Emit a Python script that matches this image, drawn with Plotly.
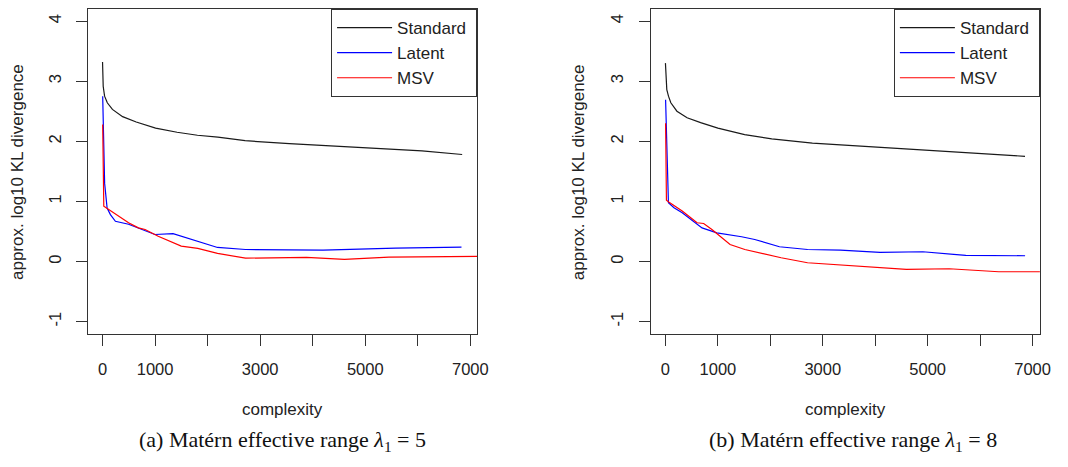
import plotly.graph_objects as go

# ---------------- data ----------------
# Panel (a): Matérn effective range lambda1 = 5
a_std_x = [0, 13, 39, 91, 188, 382, 641, 1010, 1418, 1806, 2195, 2713, 3555, 4526, 5497, 6080, 6844]
a_std_y = [3.32, 2.91, 2.75, 2.64, 2.53, 2.41, 2.32, 2.22, 2.15, 2.10, 2.07, 2.01, 1.96, 1.91, 1.87, 1.84, 1.78]

a_lat_x = [3, 40, 87, 150, 245, 495, 997, 1342, 2188, 2721, 4196, 5576, 6831]
a_lat_y = [2.75, 1.30, 0.89, 0.78, 0.67, 0.62, 0.45, 0.465, 0.234, 0.20, 0.19, 0.223, 0.239]

a_msv_x = [3, 24, 495, 683, 809, 1059, 1498, 1812, 2188, 2721, 3882, 4603, 5450, 7113, 7600]
a_msv_y = [2.28, 0.92, 0.644, 0.56, 0.533, 0.42, 0.256, 0.218, 0.135, 0.057, 0.068, 0.035, 0.073, 0.09, 0.09]

# Panel (b): Matérn effective range lambda1 = 8
b_std_x = [0, 26, 58, 103, 219, 413, 671, 1000, 1510, 2027, 2802, 3770, 4739, 5707, 6856]
b_std_y = [3.30, 2.86, 2.75, 2.64, 2.50, 2.39, 2.31, 2.22, 2.11, 2.04, 1.97, 1.92, 1.86, 1.82, 1.75]

b_lat_x = [3, 40, 57, 163, 320, 698, 980, 1452, 1703, 2174, 2709, 3337, 4091, 4908, 5726, 6857]
b_lat_y = [2.69, 1.30, 0.977, 0.894, 0.81, 0.56, 0.478, 0.412, 0.367, 0.246, 0.20, 0.19, 0.151, 0.163, 0.101, 0.096]

b_msv_x = [3, 19, 70, 320, 603, 729, 886, 1232, 1514, 2206, 2709, 3463, 4091, 4594, 5411, 6354, 7140, 7600]
b_msv_y = [2.30, 1.02, 0.987, 0.84, 0.645, 0.633, 0.533, 0.284, 0.20, 0.063, -0.02, -0.065, -0.093, -0.131, -0.12, -0.17, -0.17, -0.17]

series_names = ["Standard", "Latent", "MSV"]
series_colors = ["#1a1a1a", "#0000ff", "#ff0000"]

x_tickvals = [0, 1000, 2000, 3000, 4000, 5000, 6000, 7000]
x_ticktext = ["0", "1000", "", "3000", "", "5000", "", "7000"]
y_tickvals = [-1, 0, 1, 2, 3, 4]
y_ticktext = ["-1", "0", "1", "2", "3", "4"]

captions = ["(a) Matérn effective range <i>λ</i><sub>1</sub> = 5",
            "(b) Matérn effective range <i>λ</i><sub>1</sub> = 8"]
x_title = "complexity"
y_title = "approx. log10 KL divergence"

# ---------------- figure ----------------
W, H = 1068, 467
SANS = "Liberation Sans, Arial, Helvetica, sans-serif"
SERIF = "Liberation Serif, Times New Roman, serif"
NBSP = "\u00a0"

fig = go.Figure()

panels = [
    (a_std_x, a_std_y, a_lat_x, a_lat_y, a_msv_x, a_msv_y),
    (b_std_x, b_std_y, b_lat_x, b_lat_y, b_msv_x, b_msv_y),
]
for p, data in enumerate(panels):
    xs = [data[0], data[2], data[4]]
    ys = [data[1], data[3], data[5]]
    xa = "x" if p == 0 else "x2"
    ya = "y" if p == 0 else "y2"
    lg = "legend" if p == 0 else "legend2"
    for k in range(3):
        fig.add_trace(go.Scatter(
            x=xs[k], y=ys[k], mode="lines",
            name=series_names[k] + NBSP,
            line=dict(color=series_colors[k], width=1.2),
            xaxis=xa, yaxis=ya, legend=lg, showlegend=True,
        ))

# plot-area pixel geometry
left_px = [(89.3, 482.5), (658.3, 1051.7)]
top_px, bot_px = 9.0, 333.7
xranges = [[-271, 7128], [-277, 7139]]

ydom = [1 - bot_px / H, 1 - top_px / H]

def xaxis_cfg(i):
    return dict(
        domain=[left_px[i][0] / W, left_px[i][1] / W],
        range=xranges[i], anchor="y" if i == 0 else "y2",
        tickmode="array", tickvals=x_tickvals, ticktext=x_ticktext,
        ticks="outside", ticklen=11, tickwidth=1, tickcolor="#333",
        ticklabelstandoff=9,
        showline=True, mirror=True, linecolor="#333", linewidth=1,
        showgrid=False, zeroline=False,
        tickfont=dict(family=SANS, size=16.5, color="#222"),
    )

def yaxis_cfg(i):
    return dict(
        domain=ydom, range=[-1.2, 4.2], anchor="x" if i == 0 else "x2",
        tickmode="array", tickvals=y_tickvals, ticktext=y_ticktext,
        tickangle=-90,
        ticks="outside", ticklen=11, tickwidth=1, tickcolor="#333",
        ticklabelstandoff=9,
        showline=True, mirror=True, linecolor="#333", linewidth=1,
        showgrid=False, zeroline=False,
        tickfont=dict(family=SANS, size=16.5, color="#222"),
    )

legend_common = dict(
    bgcolor="white", bordercolor="#333", borderwidth=1,
    font=dict(family=SANS, size=17, color="#222"),
    xanchor="right", yanchor="top", y=1 - top_px / H,
    tracegroupgap=0, itemwidth=55,
)

annotations = []
for i in range(2):
    cx = (left_px[i][0] + left_px[i][1]) / 2
    annotations.append(dict(
        text=x_title, x=cx / W, y=1 - 409 / H, xref="paper", yref="paper",
        showarrow=False, xanchor="center", yanchor="middle",
        font=dict(family=SANS, size=17, color="#222"),
    ))
    ytx = [17.2, 584.8][i]
    annotations.append(dict(
        text=y_title, x=ytx / W, y=1 - 172 / H, xref="paper", yref="paper",
        showarrow=False, xanchor="center", yanchor="middle", textangle=-90,
        font=dict(family=SANS, size=17, color="#222"),
    ))
    capx = [286, 863][i]
    annotations.append(dict(
        text=captions[i], x=capx / W, y=1 - 441 / H, xref="paper", yref="paper",
        showarrow=False, xanchor="center", yanchor="middle",
        font=dict(family=SERIF, size=22, color="#111"),
    ))

fig.update_layout(
    width=W, height=H,
    margin=dict(l=0, r=0, t=0, b=0),
    paper_bgcolor="white", plot_bgcolor="white",
    xaxis=xaxis_cfg(0), yaxis=yaxis_cfg(0),
    xaxis2=xaxis_cfg(1), yaxis2=yaxis_cfg(1),
    legend=dict(x=left_px[0][1] / W, **legend_common),
    legend2=dict(x=left_px[1][1] / W, **legend_common),
    annotations=annotations,
    font=dict(family=SANS),
)

fig.write_html("out.html")
